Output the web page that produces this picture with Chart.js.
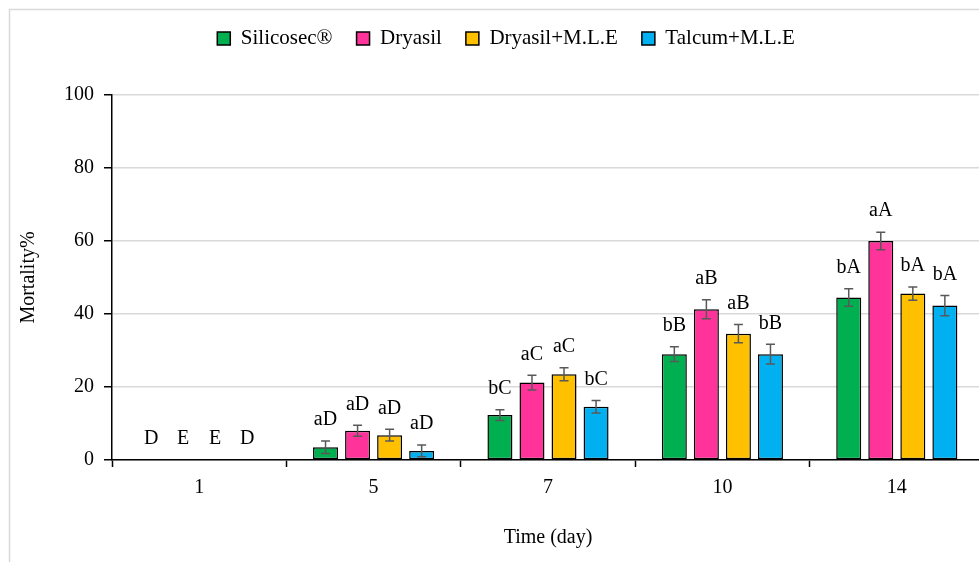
<!DOCTYPE html>
<html>
<head>
<meta charset="utf-8">
<script src="https://cdn.jsdelivr.net/npm/chart.js@4.4.0/dist/chart.umd.min.js"></script>
<style>
  html, body { margin: 0; padding: 0; background: #fff; overflow: hidden; }
  #wrap { width: 979px; height: 562px; overflow: hidden; position: relative; }
  #chart { position: absolute; left: 0; top: 0; }
</style>
</head>
<body>
<div id="wrap"><canvas id="chart" width="984" height="562"></canvas></div>
<script>
const days = ['1', '5', '7', '10', '14'];

const silicosec = [0, 3.5, 12.3, 29.0, 44.5];
const dryasil = [0, 8.0, 21.2, 41.3, 60.0];
const dryasilMLE = [0, 6.8, 23.5, 34.6, 45.6];
const talcumMLE = [0, 2.5, 14.6, 29.0, 42.3];

const silicosecErr = [0, 1.7, 1.5, 2.0, 2.4];
const dryasilErr = [0, 1.5, 2.0, 2.6, 2.4];
const dryasilMLEErr = [0, 1.6, 1.8, 2.5, 1.8];
const talcumMLEErr = [0, 1.6, 1.7, 2.7, 2.8];

const silicosecSig = ['D', 'aD', 'bC', 'bB', 'bA'];
const dryasilSig = ['E', 'aD', 'aC', 'aB', 'aA'];
const dryasilMLESig = ['E', 'aD', 'aC', 'aB', 'bA'];
const talcumMLESig = ['D', 'aD', 'bC', 'bB', 'bA'];

const yTicks = [0, 20, 40, 60, 80, 100];

const serif = 'Liberation Serif';

function makeSet(label, data, color, err, sig) {
    return {
        label: label,
        data: data,
        errors: err,
        sig: sig,
        backgroundColor: color,
        borderColor: '#000',
        borderWidth: 1.5,
        borderSkipped: false,
        categoryPercentage: 0.735,
        barPercentage: 0.78
    };
}

// frame around the whole chart (Excel chart area border)
const framePlugin = {
    id: 'frame',
    beforeDraw(chart) {
        const ctx = chart.ctx;
        ctx.save();
        ctx.fillStyle = '#fff';
        ctx.fillRect(0, 0, chart.width, chart.height);
        ctx.strokeStyle = '#d9d9d9';
        ctx.lineWidth = 1.5;
        ctx.strokeRect(9.5, 9.5, chart.width + 20, chart.height + 20);
        ctx.restore();
    }
};

// give the legend a fixed block height so the plot starts lower,
// and nudge it a little to the right like the original
const legendSpace = {
    id: 'legendSpace',
    beforeLayout(chart) {
        const lg = chart.legend;
        if (lg && !lg._patched) {
            const fit = lg.fit;
            lg.fit = function () {
                fit.call(this);
                this.height = 91;
            };
            lg._patched = true;
        }
    },
    afterLayout(chart) {
        const lg = chart.legend;
        if (lg) {
            lg.left += 10;
            lg.right += 10;
        }
    }
};

// error bars + significance letters
const errorPlugin = {
    id: 'errorBars',
    afterDatasetsDraw(chart) {
        const ctx = chart.ctx;
        const y = chart.scales.y;
        ctx.save();
        chart.data.datasets.forEach((ds, i) => {
            const meta = chart.getDatasetMeta(i);
            meta.data.forEach((bar, j) => {
                const v = ds.data[j];
                const e = ds.errors[j];
                const x = bar.x;
                const top = y.getPixelForValue(v + e);
                const bot = y.getPixelForValue(v - e);
                if (e > 0) {
                    ctx.strokeStyle = '#595959';
                    ctx.lineWidth = 1.5;
                    ctx.beginPath();
                    ctx.moveTo(x, top);
                    ctx.lineTo(x, bot);
                    ctx.moveTo(x - 4.5, top);
                    ctx.lineTo(x + 4.5, top);
                    ctx.moveTo(x - 4.5, bot);
                    ctx.lineTo(x + 4.5, bot);
                    ctx.stroke();
                }
                ctx.fillStyle = '#000';
                ctx.font = '20px "' + serif + '"';
                ctx.textAlign = 'center';
                ctx.textBaseline = 'bottom';
                ctx.fillText(ds.sig[j], x, top - 11);
            });
        });
        ctx.restore();
    }
};

new Chart(document.getElementById('chart'), {
    type: 'bar',
    data: {
        labels: days,
        datasets: [
            makeSet('Silicosec®', silicosec, '#00b050', silicosecErr, silicosecSig),
            makeSet('Dryasil', dryasil, '#ff3399', dryasilErr, dryasilSig),
            makeSet('Dryasil+M.L.E', dryasilMLE, '#ffc000', dryasilMLEErr, dryasilMLESig),
            makeSet('Talcum+M.L.E', talcumMLE, '#00b0f0', talcumMLEErr, talcumMLESig)
        ]
    },
    options: {
        responsive: false,
        animation: false,
        layout: {
            padding: { left: 8, right: 0, top: 4, bottom: 8 }
        },
        plugins: {
            legend: {
                position: 'top',
                labels: {
                    color: '#000',
                    font: { family: serif, size: 21 },
                    boxWidth: 13,
                    boxHeight: 13,
                    padding: 24
                }
            },
            tooltip: { enabled: false }
        },
        scales: {
            x: {
                grid: {
                    offset: true,
                    drawOnChartArea: false,
                    drawTicks: true,
                    tickLength: 7,
                    tickColor: '#000',
                    tickWidth: 1.5
                },
                border: { color: '#000', width: 1.5 },
                ticks: {
                    color: '#000',
                    font: { family: serif, size: 20 },
                    padding: 9
                },
                title: {
                    display: true,
                    text: 'Time (day)',
                    color: '#000',
                    font: { family: serif, size: 20 },
                    padding: { top: 17 }
                }
            },
            y: {
                min: 0,
                max: 100,
                afterBuildTicks(axis) {
                    axis.ticks = yTicks.map(v => ({ value: v }));
                },
                grid: {
                    color: '#d9d9d9',
                    lineWidth: 1.5,
                    tickLength: 8,
                    tickColor: '#000',
                    tickWidth: 1.5
                },
                border: { color: '#000', width: 1.5 },
                ticks: {
                    color: '#000',
                    font: { family: serif, size: 20 },
                    padding: 10
                },
                title: {
                    display: true,
                    text: 'Mortality%',
                    color: '#000',
                    font: { family: serif, size: 20 },
                    padding: { top: 9, bottom: 13 }
                }
            }
        }
    },
    plugins: [framePlugin, legendSpace, errorPlugin]
});
</script>
</body>
</html>
